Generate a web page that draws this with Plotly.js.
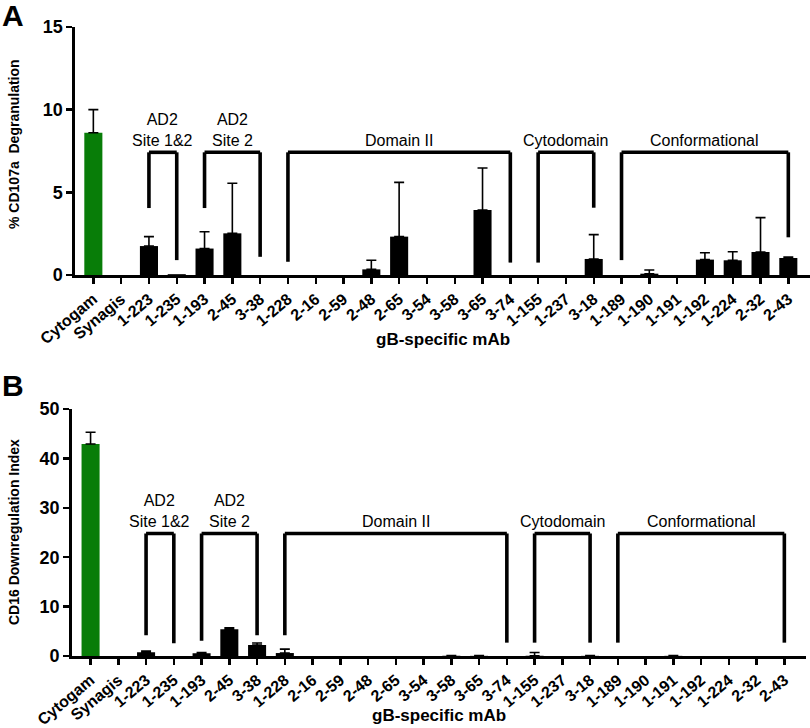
<!DOCTYPE html>
<html><head><meta charset="utf-8">
<script src="https://cdn.plot.ly/plotly-3.0.1.min.js"></script>
<style>body{margin:0;background:#fff}#chart{width:810px;height:728px}</style>
</head><body><div id="chart"></div>
<script>
// ---- data ----
const categories = ["Cytogam","Synagis","1-223","1-235","1-193","2-45","3-38","1-228","2-16","2-59","2-48","2-65","3-54","3-58","3-65","3-74","1-155","1-237","3-18","1-189","1-190","1-191","1-192","1-224","2-32","2-43"];
// Panel A: % CD107a degranulation (mean, upper SD)
const degranMean = [8.6,0,1.75,0.05,1.6,2.52,0,0,0,0,0.34,2.32,0,0,3.93,0,0,0,0.97,0,0.08,0,0.93,0.89,1.39,1.03];
const degranErr  = [1.4,null,0.57,null,1.02,3.03,null,null,null,null,0.55,3.28,null,null,2.54,null,null,null,1.47,null,0.22,null,0.42,0.52,2.08,0.06];
// Panel B: CD16 downregulation index (mean, upper SD)
const cd16Mean = [42.9,0,0.74,0,0.54,5.4,2.23,0.6,0,0,0,0,0,0.05,0.03,0,0.05,0,0.03,0,0,0.03,0,0,0,0];
const cd16Err  = [2.4,null,0.26,null,0.16,0.33,0.4,0.8,null,null,null,null,null,0.05,0.05,null,0.65,null,0.07,null,null,0.05,null,null,null,null];
// epitope groups (brackets)
const groupLabels = ["AD2<br>Site 1&2","AD2<br>Site 2","Domain II","Cytodomain","Conformational"];
const groupStart = [2,4,7,16,19];
const groupEnd   = [3,6,15,18,25];
const bracketTopA = 7.42;
const bracketLeftA  = [4.05,4.05,0.8,0.75,0.9];
const bracketRightA = [0.9,1.1,0.75,4.07,2.28];
const bracketTopB = 24.8;
const bracketLeftB  = [4.2,3.1,4.2,2.7,2.7];
const bracketRightB = [2.6,4.2,2.7,2.7,2.7];
const xTitle = "gB-specific mAb";
const yTitleA = "% CD107a\u00a0 Degranulation";
const yTitleB = "CD16 Downregulation Index";

// ---- styling ----
const FONT = "Liberation Sans, Arial, Helvetica, sans-serif";
const GREEN = "#087d08";
const colors = categories.map((c,i)=> i===0 ? GREEN : "#000000");
const toErr = a => a.map(v => v===null ? NaN : v);
const toErrMinus = a => a.map(v => v===null ? NaN : 0);

function barTrace(y, err, xa, ya){
  return {
    type:"bar", x:categories, y:y, xaxis:xa, yaxis:ya, width:0.65,
    marker:{color:colors, line:{width:0}},
    error_y:{type:"data", symmetric:false, array:toErr(err), arrayminus:toErrMinus(err),
      color:"#000", thickness:1.6, width:5},
    hoverinfo:"x+y", showlegend:false
  };
}

const shapes = [];
const annotations = [];
function addBrackets(xref, yref, top, left, right){
  for(let i=0;i<groupLabels.length;i++){
    const ln = {color:"#000", width:3.6};
    shapes.push({type:"line", xref, yref, x0:groupStart[i], x1:groupStart[i], y0:left[i], y1:top, line:ln});
    shapes.push({type:"line", xref, yref, x0:groupStart[i], x1:groupEnd[i], y0:top, y1:top, line:ln});
    shapes.push({type:"line", xref, yref, x0:groupEnd[i], x1:groupEnd[i], y0:right[i], y1:top, line:ln});
    annotations.push({xref, yref, x:(groupStart[i]+groupEnd[i])/2, y:top, yanchor:"bottom", yshift:1,
      text:groupLabels[i], showarrow:false, font:{family:FONT, size:16, color:"#000"}});
  }
}
addBrackets("x","y",bracketTopA,bracketLeftA,bracketRightA);
addBrackets("x2","y2",bracketTopB,bracketLeftB,bracketRightB);

const P = (py) => (728-py)/728;  // pixel row -> paper y
annotations.push({xref:"paper", yref:"paper", x:0, y:1, xanchor:"left", yanchor:"top", yshift:3,
  text:"A", showarrow:false, font:{family:FONT, size:30, weight:"bold", color:"#000"}});
annotations.push({xref:"paper", yref:"paper", x:0, y:P(367), xanchor:"left", yanchor:"top",
  text:"B", showarrow:false, font:{family:FONT, size:30, weight:"bold", color:"#000"}});
// axis titles
const tFontX = {family:FONT, size:17, weight:"bold", color:"#000"};
const tFontY = {family:FONT, size:14, weight:"bold", color:"#000"};
annotations.push({xref:"paper", yref:"paper", x:442.5/810, y:P(339), xanchor:"center", yanchor:"middle",
  text:xTitle, showarrow:false, font:tFontX});
annotations.push({xref:"paper", yref:"paper", x:439/810, y:P(715), xanchor:"center", yanchor:"middle",
  text:xTitle, showarrow:false, font:tFontX});
annotations.push({xref:"paper", yref:"paper", x:14/810, y:P(144), xanchor:"center", yanchor:"middle",
  text:yTitleA, textangle:-90, showarrow:false, font:tFontY});
annotations.push({xref:"paper", yref:"paper", x:14/810, y:P(532), xanchor:"center", yanchor:"middle",
  text:yTitleB, textangle:-90, showarrow:false, font:tFontY});

const xCommon = {
  type:"category", showline:true, linecolor:"#000", linewidth:2.6, ticks:"outside", ticklen:6, tickwidth:2.4,
  tickcolor:"#000", tickangle:-40, tickfont:{family:FONT, size:16, weight:"bold", color:"#000"},
  showgrid:false, zeroline:false, automargin:false
};
const yCommon = {
  showline:true, linecolor:"#000", linewidth:2.6, ticks:"outside", ticklen:6, tickwidth:2.4, tickcolor:"#000",
  tickfont:{family:FONT, size:18, weight:"bold", color:"#000"}, showgrid:false, zeroline:false, automargin:false
};

const layout = {
  width:810, height:728, margin:{l:0,r:0,t:0,b:0}, paper_bgcolor:"#fff", plot_bgcolor:"rgba(0,0,0,0)",
  bargap:0.3, font:{family:FONT, color:"#000"},
  xaxis: Object.assign({}, xCommon, {domain:[75/810,1], range:[-0.66,25.78], anchor:"y"}),
  yaxis: Object.assign({}, yCommon, {domain:[P(275),P(27)], range:[0,15], tickvals:[0,5,10,15], anchor:"x"}),
  xaxis2: Object.assign({}, xCommon, {domain:[71.7/810,806/810], range:[-0.68,25.78], anchor:"y2"}),
  yaxis2: Object.assign({}, yCommon, {domain:[P(656),P(409)], range:[0,50], tickvals:[0,10,20,30,40,50], anchor:"x2"}),
  shapes, annotations
};

Plotly.newPlot("chart", [barTrace(degranMean, degranErr, "x", "y"), barTrace(cd16Mean, cd16Err, "x2", "y2")], layout,
  {displayModeBar:false, staticPlot:true});
</script></body></html>
